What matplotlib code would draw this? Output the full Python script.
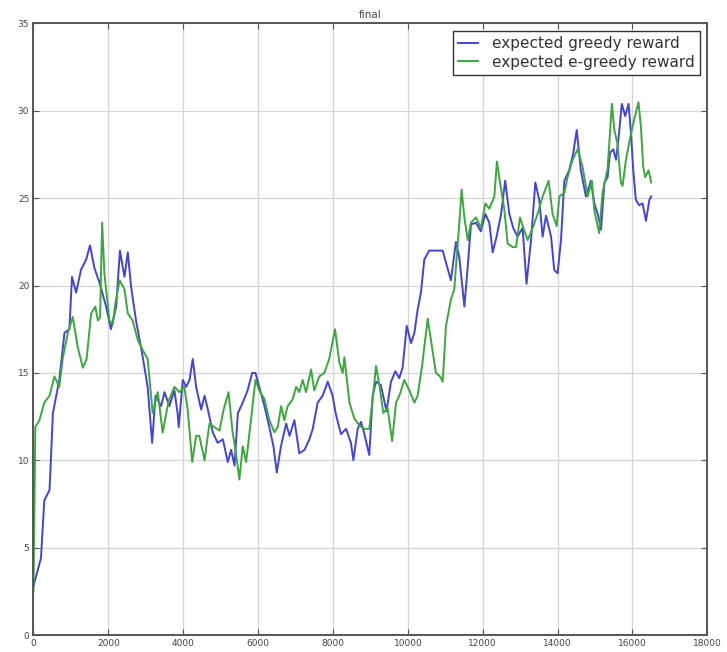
import matplotlib
matplotlib.use('Agg')
import matplotlib.pyplot as plt

# expected reward of the greedy policy, sampled along training steps
greedy_steps = [0, 200, 290, 430, 520, 690, 830, 960, 1030, 1140, 1270, 1410, 1510, 1630,
                1760, 1940, 2070, 2210, 2310, 2430, 2520, 2610, 2740, 2920, 3050, 3170,
                3260, 3410, 3500, 3630, 3765, 3850, 3880, 3990, 4080, 4170, 4255, 4345,
                4480, 4570, 4660, 4790, 4920, 5060, 5190, 5280, 5370, 5460, 5590, 5720,
                5840, 5930, 6030, 6170, 6300, 6410, 6500, 6610, 6750, 6840, 6970, 7100,
                7240, 7370, 7460, 7590, 7725, 7860, 7990, 8080, 8215, 8350, 8480, 8545,
                8660, 8750, 8840, 8970, 9060, 9150, 9280, 9430, 9550, 9665, 9770, 9860,
                9970, 10085, 10175, 10260, 10350, 10440, 10570, 10750, 10930, 11150,
                11285, 11375, 11510, 11600, 11685, 11820, 11950, 12070, 12175, 12265,
                12370, 12490, 12600, 12710, 12815, 12930, 13065, 13170, 13290, 13405,
                13510, 13600, 13690, 13825, 13910, 14000, 14090, 14180, 14310, 14420,
                14510, 14620, 14755, 14890, 14980, 15070, 15160, 15250, 15335, 15400,
                15485, 15560, 15630, 15715, 15805, 15895, 15960, 16020, 16090, 16180,
                16270, 16360, 16450, 16500]
greedy_reward = [2.8, 4.4, 7.7, 8.3, 12.7, 14.6, 17.3, 17.5, 20.5, 19.6, 20.9, 21.5, 22.3, 21.0,
                 20.2, 18.8, 17.5, 18.8, 22.0, 20.5, 21.9, 19.9, 18.0, 15.9, 14.2, 11.0,
                 13.7, 13.1, 13.9, 13.1, 14.0, 12.7, 11.9, 14.6, 14.2, 14.6, 15.8, 14.2,
                 12.9, 13.7, 12.9, 11.6, 11.0, 11.2, 9.9, 10.6, 9.7, 12.7, 13.3, 14.0,
                 15.0, 15.0, 14.2, 13.1, 11.9, 10.8, 9.3, 10.8, 12.1, 11.4, 12.3, 10.4,
                 10.6, 11.2, 11.8, 13.3, 13.7, 14.5, 13.7, 12.6, 11.5, 11.8, 11.0, 10.0,
                 11.8, 12.2, 11.5, 10.3, 13.7, 14.5, 14.3, 12.8, 14.5, 15.1, 14.7, 15.3,
                 17.7, 16.7, 17.3, 18.6, 19.6, 21.5, 22.0, 22.0, 22.0, 20.3,
                 22.5, 21.6, 18.8, 21.1, 23.5, 23.6, 23.1, 24.1, 23.6, 21.9,
                 22.8, 24.1, 26.0, 24.1, 23.3, 22.8, 23.3, 20.1, 22.6, 25.9,
                 24.9, 22.8, 24.0, 22.8, 20.9, 20.7, 22.6, 26.0, 26.6, 27.6,
                 28.9, 26.6, 25.1, 26.0, 24.7, 24.1, 23.2, 25.9, 26.2, 27.6,
                 27.8, 27.2, 28.5, 30.4, 29.7, 30.4, 28.7, 26.6, 24.9, 24.6,
                 24.7, 23.7, 24.9, 25.1]

# expected reward of the e-greedy policy
egreedy_steps = [0, 50, 160, 290, 430, 560, 690, 780, 920, 1050, 1180, 1320, 1420, 1540,
                 1655, 1720, 1780, 1835, 1895, 2030, 2120, 2190, 2300, 2430, 2520, 2650,
                 2785, 2920, 3050, 3185, 3320, 3450, 3585, 3630, 3765, 3900, 4030, 4120,
                 4240, 4345, 4430, 4570, 4700, 4835, 4970, 5080, 5210, 5320, 5410, 5500,
                 5590, 5680, 5810, 5930, 6030, 6170, 6300, 6435, 6525, 6615, 6700, 6790,
                 6925, 7015, 7100, 7190, 7280, 7415, 7500, 7636, 7770, 7900, 8055, 8170,
                 8260, 8305, 8440, 8570, 8700, 8840, 8970, 9060, 9150, 9240, 9345, 9460,
                 9580, 9685, 9790, 9905, 10040, 10175, 10260, 10380, 10530, 10645, 10750,
                 10860, 10930, 11020, 11150, 11240, 11300, 11375, 11436, 11510, 11600,
                 11685, 11820, 11950, 12070, 12175, 12310, 12380, 12460, 12575, 12665,
                 12800, 12890, 12995, 13085, 13200, 13335, 13465, 13600, 13760, 13865,
                 13975, 14045, 14180, 14265, 14400, 14535, 14665, 14800, 14915, 14980,
                 15110, 15200, 15335, 15450, 15515, 15600, 15690, 15735, 15825, 15960,
                 16045, 16160, 16225, 16285, 16340, 16430, 16500]
egreedy_reward = [2.5, 11.9, 12.3, 13.3, 13.7, 14.8, 14.2, 15.8, 17.3, 18.2, 16.5, 15.3, 15.8, 18.4,
                  18.8, 18.0, 18.2, 23.6, 20.7, 18.0, 17.8, 19.0, 20.3, 19.8, 18.4, 18.0,
                  16.9, 16.3, 15.8, 12.7, 13.9, 11.6, 13.1, 13.5, 14.2, 13.9, 14.2, 12.9,
                  9.9, 11.4, 11.4, 10.0, 12.1, 11.9, 11.7, 12.9, 13.9, 11.6, 10.4, 8.9,
                  10.8, 9.9, 12.3, 14.6, 14.0, 13.5, 12.3, 11.6, 11.9, 13.1, 12.3, 13.1,
                  13.5, 14.2, 13.9, 14.6, 13.9, 15.2, 14.0, 14.8, 15.0, 15.8, 17.5, 15.6,
                  15.0, 15.9, 13.3, 12.4, 12.0, 11.8, 11.8, 13.5, 15.4, 14.3, 12.7, 13.0,
                  11.1, 13.3, 13.8, 14.6, 14.0, 13.3, 13.7, 15.4, 18.1, 16.5, 15.0,
                  14.8, 14.5, 17.7, 19.2, 19.8, 21.5, 23.6, 25.5, 23.9, 22.6,
                  23.6, 23.9, 23.3, 24.7, 24.4, 25.1, 27.1, 25.9, 24.4, 22.4,
                  22.2, 22.2, 23.9, 23.3, 22.6, 23.3, 24.1, 25.1, 26.0, 24.1,
                  23.4, 25.1, 25.3, 26.2, 27.2, 27.8, 26.8, 25.1, 26.0, 24.3,
                  23.0, 25.3, 26.7, 30.4, 28.9, 28.1, 25.9, 25.7, 27.2, 28.7,
                  29.5, 30.5, 29.1, 26.8, 26.2, 26.6, 25.9]

x_ticks = list(range(0, 18001, 2000))
y_ticks = list(range(0, 36, 5))

fig = plt.figure(figsize=(7.27, 6.52), dpi=100, facecolor='white')
ax = fig.add_axes([0.046, 0.026, 0.927, 0.938])

ax.plot(greedy_steps, greedy_reward, color='#4343dc', lw=1.4, label='expected greedy reward')
ax.plot(egreedy_steps, egreedy_reward, color='#3aa83a', lw=1.4, label='expected e-greedy reward')

ax.set_xlim(0, 18000)
ax.set_ylim(0, 35)
ax.set_xticks(x_ticks)
ax.set_yticks(y_ticks)
ax.grid(True, color='#d4d4d4', lw=0.9, ls='-')
ax.set_axisbelow(True)

ax.tick_params(direction='in', length=4, width=0.8, colors='#555555', labelsize=6.5,
               top=True, right=True, labelcolor='#444444', pad=3)
for sp in ax.spines.values():
    sp.set_color('#555555')
    sp.set_linewidth(1.4)

ax.set_title('final', fontsize=7.5, color='#444444', pad=4)

leg = ax.legend(loc='upper right', fontsize=11, handlelength=1.3, handletextpad=0.9,
                fancybox=False, borderaxespad=0.5, borderpad=0.35, framealpha=1,
                labelspacing=0.2)
leg.get_frame().set_edgecolor('#333333')
leg.get_frame().set_linewidth(1.0)
for t in leg.get_texts():
    t.set_color('#333333')

fig.savefig('out.png', dpi=100, facecolor='white')
